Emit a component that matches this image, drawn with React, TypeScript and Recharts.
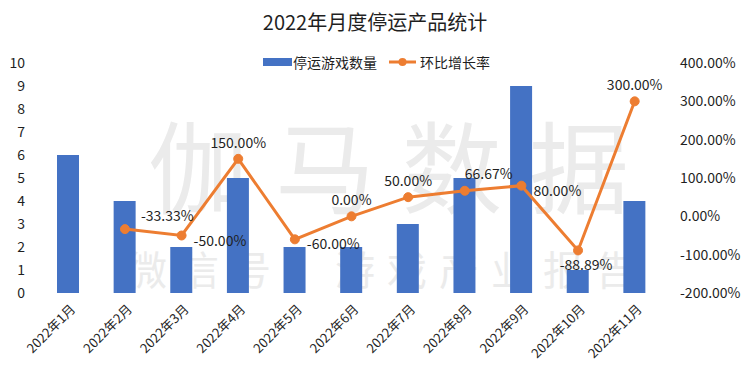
import { Bar, ComposedChart, LabelList, Line, XAxis, YAxis } from 'recharts'

// Chart data.
const months = [
  '2022年1月', '2022年2月', '2022年3月', '2022年4月', '2022年5月', '2022年6月',
  '2022年7月', '2022年8月', '2022年9月', '2022年10月', '2022年11月',
]
const closedGames = [6, 4, 2, 5, 2, 2, 3, 5, 9, 1, 4]
const momGrowth: (number | null)[] = [null, -33.33, -50, 150, -60, 0, 50, 66.67, 80, -88.89, 300]
const countTicks = [0, 1, 2, 3, 4, 5, 6, 7, 8, 9, 10]
const rateTicks = [-200, -100, 0, 100, 200, 300, 400]

// Where each data label sits next to its point (Excel placed them by hand).
const labelPlacement = ['top', 'upRight', 'right', 'top', 'right', 'top', 'top', 'topRight', 'right', 'bottom', 'top']

const FONT = '"Noto Sans CJK SC", "Noto Sans", sans-serif'
const BLUE = '#4472C4'
const ORANGE = '#ED7D31'
const TEXT = '#1f1f1f'

const data = months.map((month, i) => ({ month, count: closedGames[i], rate: momGrowth[i] }))

const formatRate = (v: number) => `${v.toFixed(2)}%`

// Rotated month label.
function MonthTick(props: any) {
  const { x, y, payload } = props
  return (
    <g transform={`translate(${x + 8},${y + 9})`}>
      <text textAnchor="end" transform="rotate(-45)" fontSize={13} fill={TEXT} fontFamily={FONT}>
        {payload.value}
      </text>
    </g>
  )
}

// Data label for the growth line.
function RateLabel(props: any) {
  const { x, y, value, index } = props
  if (value === null || value === undefined) return null
  const place = labelPlacement[index]
  let tx = x
  let ty = y - 17
  let anchor = 'middle'
  if (place === 'right') {
    tx = x + 12
    ty = y + 4
    anchor = 'start'
  } else if (place === 'upRight') {
    tx = x + 16
    ty = y - 14
    anchor = 'start'
  } else if (place === 'topRight') {
    tx = x
    ty = y - 18
    anchor = 'start'
  } else if (place === 'bottom') {
    tx = x + 8
    ty = y + 14
  }
  return (
    <text x={tx} y={ty} textAnchor={anchor} dominantBaseline="central" fontSize={14} fill={TEXT} fontFamily={FONT}>
      {formatRate(value)}
    </text>
  )
}

export default function App() {
  return (
    <div style={{ position: 'absolute', left: 0, top: 0, width: 750, height: 384, background: '#fff', fontFamily: FONT }}>
      {/* watermark */}
      <div style={{ position: 'absolute', left: 0, top: 108, width: 750, textAlign: 'center', fontSize: 100, lineHeight: '110px', color: '#ebebeb', letterSpacing: 27, paddingLeft: 27 }}>
        伽马数据
      </div>
      <div style={{ position: 'absolute', left: 0, top: 244, width: 750, textAlign: 'center', fontSize: 40, lineHeight: '48px', color: '#ebebeb', letterSpacing: 12, paddingLeft: 12 }}>
        微信号：游戏产业报告
      </div>

      <div style={{ position: 'absolute', left: 0, top: 8, width: 750, textAlign: 'center', fontSize: 20, lineHeight: '28px', color: TEXT }}>
        2022年月度停运产品统计
      </div>

      <div style={{ position: 'absolute', left: 263, top: 52, height: 20, display: 'flex', alignItems: 'center', fontSize: 14, color: TEXT, zIndex: 2 }}>
        <span style={{ width: 29, height: 8, background: BLUE, display: 'inline-block' }} />
        <span style={{ marginLeft: 1 }}>停运游戏数量</span>
        <svg width={28} height={12} style={{ marginLeft: 12 }}>
          <line x1={0} y1={6} x2={27} y2={6} stroke={ORANGE} strokeWidth={3} />
          <circle cx={13.5} cy={6} r={4} fill={ORANGE} />
        </svg>
        <span style={{ marginLeft: 3 }}>环比增长率</span>
      </div>

      <ComposedChart width={750} height={384} data={data} margin={{ top: 63, right: 0, bottom: 0, left: 0 }}>
        <XAxis dataKey="month" height={91} interval={0} axisLine={false} tickLine={false} tick={<MonthTick />} />
        <YAxis
          yAxisId="count"
          width={40}
          domain={[0, 10]}
          ticks={countTicks}
          interval={0}
          axisLine={false}
          tickLine={false}
          tickSize={0}
          tickMargin={15}
          tick={{ fontSize: 14, fill: TEXT, fontFamily: FONT }}
        />
        <YAxis
          yAxisId="rate"
          orientation="right"
          width={87}
          domain={[-200, 400]}
          ticks={rateTicks}
          interval={0}
          axisLine={false}
          tickLine={false}
          tickSize={0}
          tickMargin={17}
          tickFormatter={formatRate}
          tick={{ fontSize: 14, fill: TEXT, fontFamily: FONT, textAnchor: 'start' }}
        />
        <Bar yAxisId="count" dataKey="count" fill={BLUE} barSize={22} isAnimationActive={false} />
        <Line
          yAxisId="rate"
          dataKey="rate"
          stroke={ORANGE}
          strokeWidth={3}
          dot={{ r: 4.5, fill: ORANGE, stroke: ORANGE, strokeWidth: 1 }}
          isAnimationActive={false}
        >
          <LabelList dataKey="rate" content={<RateLabel />} />
        </Line>
      </ComposedChart>
    </div>
  )
}
